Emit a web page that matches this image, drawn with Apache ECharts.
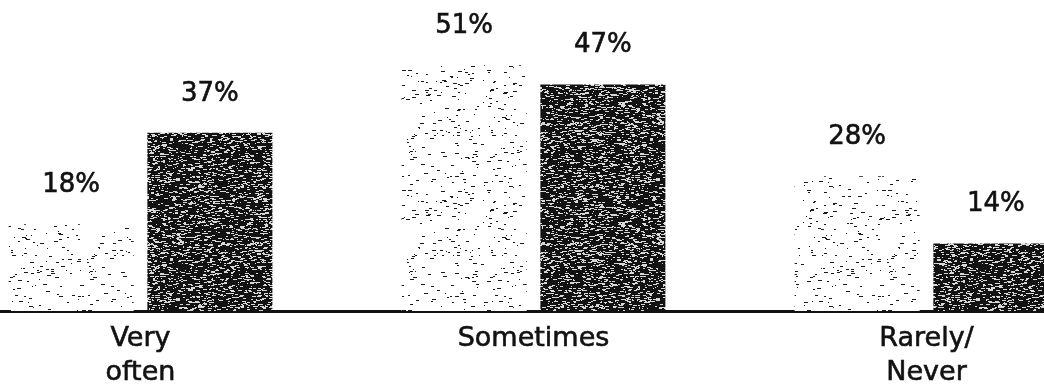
<!DOCTYPE html>
<html>
<head>
<meta charset="utf-8">
<script src="https://cdn.jsdelivr.net/npm/echarts@6/dist/echarts.min.js"></script>
<style>
  html, body { margin: 0; padding: 0; background: #fff; }
  #chart { width: 1044px; height: 387px; }
</style>
</head>
<body>
<div id="chart"></div>
<script>
// Survey answers, percentage of respondents
const categories = ['Very\noften', 'Sometimes', 'Rarely/\nNever'];
const lightValues = [18, 51, 28];
const darkValues = [37, 47, 14];

// Deterministic hash used to speckle the printed-halftone bar textures
function hash(x, y, s) {
  let n = Math.imul(x, 374761393) + Math.imul(y, 668265263) + Math.imul(s, 1442695041);
  n = Math.imul(n ^ (n >>> 13), 1274126177);
  n = n ^ (n >>> 16);
  return (n >>> 0) / 4294967296;
}

function grainTexture(base, speck, density, seed) {
  const w = 160, h = 120;
  const c = document.createElement('canvas');
  c.width = w; c.height = h;
  const ctx = c.getContext('2d');
  ctx.fillStyle = base;
  ctx.fillRect(0, 0, w, h);
  ctx.fillStyle = speck;
  for (let y = 0; y < h; y++) {
    for (let x = 0; x < w; x++) {
      if (hash(x, y, seed) < density) {
        const len = 1 + Math.floor(hash(x, y, seed + 7) * 4);
        ctx.fillRect(x, y, len, 1);
      }
    }
  }
  return c;
}

const lightTex = grainTexture('#ffffff', '#1a1a1a', 0.018, 3);
const darkTex = grainTexture('#121212', '#d8d8d8', 0.11, 11);

const font = "'DejaVu Sans', 'Liberation Sans', Arial, sans-serif";

const valueLabel = {
  show: true,
  position: 'top',
  distance: 26,
  formatter: '{c}%',
  fontSize: 26,
  color: '#111',
  fontFamily: font,
  textBorderColor: '#111',
  textBorderWidth: 0.6
};

const chart = echarts.init(document.getElementById('chart'), null, { renderer: 'canvas' });

chart.setOption({
  animation: false,
  backgroundColor: '#ffffff',
  grid: {
    left: -56, width: 1179, top: 22, bottom: 76,
    containLabel: false,
    outerBoundsMode: 'none'
  },
  xAxis: {
    type: 'category',
    data: categories,
    axisLine: { show: true, lineStyle: { color: '#111', width: 3 } },
    axisTick: { show: false },
    axisLabel: {
      interval: 0,
      margin: 11,
      fontSize: 27,
      lineHeight: 34,
      color: '#111',
      fontFamily: font,
      textBorderColor: '#111',
      textBorderWidth: 0.6
    }
  },
  yAxis: {
    type: 'value',
    min: 0,
    max: 60,
    show: false
  },
  series: [
    {
      name: 'light',
      type: 'bar',
      data: lightValues,
      barWidth: 125,
      barGap: '11%',
      itemStyle: { color: { image: lightTex, repeat: 'repeat' } },
      label: valueLabel
    },
    {
      name: 'dark',
      type: 'bar',
      data: darkValues,
      barWidth: 125,
      itemStyle: { color: { image: darkTex, repeat: 'repeat' } },
      label: valueLabel
    }
  ]
});
</script>
</body>
</html>
